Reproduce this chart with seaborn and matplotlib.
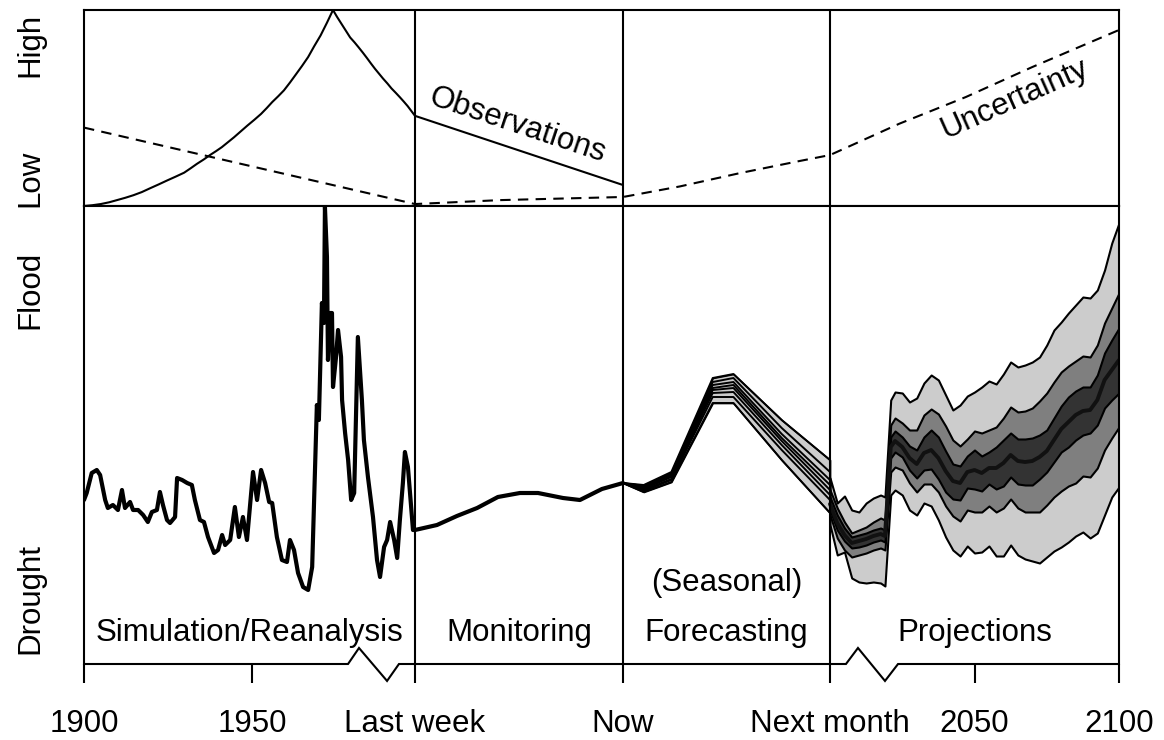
import numpy as np
import pandas as pd
import matplotlib
matplotlib.use("Agg")
import matplotlib.pyplot as plt
import matplotlib.transforms as mtransforms
import seaborn as sns

# ---------------------------------------------------------------- data
# Simulation / reanalysis (hydrological index, arbitrary units)
sim_years = [1900.0, 1900.8, 1902.3, 1903.8, 1904.8, 1906.3, 1907.1, 1908.6, 1910.1, 1911.3,
             1912.2, 1913.7, 1914.6, 1916.1, 1917.6, 1919.0, 1920.2, 1921.7, 1922.6, 1923.5,
             1924.7, 1925.6, 1927.1, 1927.7, 1929.2, 1930.7, 1932.1, 1933.0, 1934.5, 1935.7,
             1936.9, 1938.7, 1939.9, 1941.1, 1942.0, 1943.5, 1944.9, 1946.1, 1947.3, 1948.5,
             1950.3, 1951.5, 1952.7, 1953.9, 1955.1, 1956.0, 1957.4, 1958.9, 1960.4, 1961.3,
             1962.5, 1963.7, 1965.2, 1966.7, 1967.9, 1968.8, 1969.3, 1969.9, 1970.8, 1971.4,
             1971.7, 1972.3, 1972.6, 1973.2, 1973.8, 1974.1, 1975.0, 1975.6, 1976.5, 1976.8,
             1977.7, 1978.6, 1979.5, 1980.4, 1981.5, 1982.7, 1983.3, 1984.5, 1986.0, 1987.2,
             1988.1, 1989.3, 1990.2, 1991.1, 1992.3, 1993.2, 1994.0, 1994.9, 1995.5, 1996.4,
             1997.9]
sim_index = [1.62, 1.69, 1.89, 1.92, 1.87, 1.62, 1.54, 1.57, 1.52, 1.72,
             1.54, 1.60, 1.52, 1.52, 1.47, 1.40, 1.50, 1.52, 1.70, 1.57,
             1.42, 1.39, 1.45, 1.84, 1.82, 1.79, 1.77, 1.62, 1.42, 1.40,
             1.25, 1.09, 1.12, 1.27, 1.17, 1.22, 1.55, 1.25, 1.45, 1.22,
             1.90, 1.62, 1.92, 1.79, 1.60, 1.59, 1.25, 1.02, 1.00, 1.22,
             1.12, 0.89, 0.75, 0.72, 0.95, 1.99, 2.57, 2.42, 3.59, 3.39,
             4.55, 4.05, 3.02, 3.49, 3.49, 2.75, 3.05, 3.32, 3.05, 2.62,
             2.29, 2.02, 1.62, 1.69, 3.25, 2.62, 2.22, 1.85, 1.45, 1.02,
             0.85, 1.15, 1.22, 1.40, 1.22, 1.04, 1.42, 1.79, 2.10, 1.95,
             1.32]

# Monitoring (days relative to now)
mon_days = [-7.0, -6.26, -5.59, -4.91, -4.21, -3.47, -2.86, -2.02, -1.45, -0.71, 0.0]
mon_index = [1.32, 1.37, 1.46, 1.54, 1.65, 1.69, 1.69, 1.64, 1.62, 1.73, 1.79]

# Seasonal forecast ensemble (days ahead)
fc_days = [0, 3, 7, 13, 16, 23, 30]
fc_member_1 = [1.79, 1.77, 1.90, 2.84, 2.88, 2.42, 2.02]
fc_member_2 = [1.79, 1.76, 1.88, 2.80, 2.84, 2.34, 1.90]
fc_member_3 = [1.79, 1.75, 1.87, 2.77, 2.80, 2.28, 1.82]
fc_member_4 = [1.79, 1.74, 1.86, 2.74, 2.77, 2.24, 1.77]
fc_member_5 = [1.79, 1.73, 1.85, 2.72, 2.74, 2.21, 1.72]
fc_member_6 = [1.79, 1.72, 1.83, 2.69, 2.70, 2.17, 1.67]
fc_member_7 = [1.79, 1.71, 1.82, 2.65, 2.65, 2.12, 1.62]
fc_member_8 = [1.79, 1.70, 1.80, 2.59, 2.59, 2.02, 1.49]

# Projections (percentile bands)
proj_years = [2000, 2002.5, 2005, 2007.5, 2010, 2012.5, 2015, 2017.5, 2019, 2021,
              2022.5, 2025, 2027.5, 2030, 2032.5, 2035, 2037.5, 2040, 2042.5, 2045,
              2047.5, 2050, 2052.5, 2055, 2057.5, 2060, 2062.5, 2065, 2067.5, 2070,
              2072.5, 2075, 2077.5, 2080, 2082.5, 2085, 2087.5, 2090, 2092.5, 2095,
              2097.5, 2100]
proj_outer_hi = [1.84, 1.59, 1.66, 1.52, 1.50, 1.59, 1.64, 1.67, 1.65, 2.62,
                 2.70, 2.69, 2.60, 2.64, 2.79, 2.87, 2.82, 2.67, 2.52, 2.57,
                 2.66, 2.70, 2.75, 2.81, 2.78, 2.88, 3.00, 2.95, 2.97, 3.00,
                 3.05, 3.17, 3.32, 3.40, 3.49, 3.57, 3.65, 3.64, 3.72, 3.92,
                 4.19, 4.39]
proj_outer_lo = [1.37, 1.07, 1.10, 0.84, 0.80, 0.79, 0.80, 0.79, 0.76, 1.67,
                 1.72, 1.67, 1.52, 1.47, 1.59, 1.56, 1.42, 1.25, 1.12, 1.06,
                 1.16, 1.09, 1.10, 1.16, 1.06, 1.06, 1.17, 1.07, 1.03, 1.01,
                 0.99, 1.05, 1.11, 1.15, 1.20, 1.26, 1.30, 1.24, 1.29, 1.47,
                 1.65, 1.75]
proj_mid_hi = [1.72, 1.54, 1.40, 1.29, 1.32, 1.35, 1.40, 1.44, 1.42, 2.37,
               2.44, 2.39, 2.32, 2.32, 2.47, 2.53, 2.48, 2.36, 2.22, 2.16,
               2.23, 2.31, 2.29, 2.32, 2.35, 2.44, 2.55, 2.50, 2.51, 2.54,
               2.61, 2.69, 2.80, 2.90, 2.96, 3.01, 3.06, 3.05, 3.17, 3.39,
               3.54, 3.69]
proj_mid_lo = [1.47, 1.24, 1.12, 1.05, 1.07, 1.09, 1.12, 1.14, 1.12, 1.90,
               1.95, 1.92, 1.79, 1.70, 1.78, 1.78, 1.70, 1.56, 1.46, 1.41,
               1.52, 1.50, 1.50, 1.56, 1.50, 1.54, 1.63, 1.54, 1.50, 1.50,
               1.50, 1.57, 1.65, 1.71, 1.76, 1.79, 1.86, 1.85, 1.94, 2.12,
               2.24, 2.35]
proj_inner_hi = [1.65, 1.47, 1.34, 1.25, 1.27, 1.29, 1.32, 1.34, 1.32, 2.25,
                 2.31, 2.25, 2.16, 2.12, 2.25, 2.32, 2.25, 2.11, 1.98, 1.96,
                 2.06, 2.12, 2.06, 2.10, 2.15, 2.22, 2.29, 2.23, 2.23, 2.24,
                 2.27, 2.32, 2.44, 2.56, 2.65, 2.71, 2.75, 2.75, 2.87, 3.09,
                 3.22, 3.34]
proj_inner_lo = [1.52, 1.32, 1.21, 1.14, 1.15, 1.17, 1.20, 1.22, 1.20, 2.04,
                 2.10, 2.05, 1.92, 1.84, 1.92, 1.93, 1.83, 1.70, 1.63, 1.62,
                 1.74, 1.73, 1.71, 1.78, 1.73, 1.76, 1.85, 1.78, 1.77, 1.77,
                 1.83, 1.90, 2.00, 2.10, 2.15, 2.22, 2.27, 2.29, 2.37, 2.54,
                 2.62, 2.69]
proj_median = [1.58, 1.39, 1.27, 1.19, 1.21, 1.23, 1.26, 1.28, 1.26, 2.15,
               2.21, 2.15, 2.04, 1.98, 2.09, 2.12, 2.04, 1.91, 1.81, 1.79,
               1.90, 1.92, 1.89, 1.94, 1.94, 1.99, 2.07, 2.01, 2.00, 2.01,
               2.05, 2.11, 2.22, 2.33, 2.40, 2.47, 2.51, 2.52, 2.62, 2.82,
               2.92, 3.02]

# Top panel: availability of observations (0 = low, 1 = high)
obs_sim_years = [1900, 1902.5, 1905, 1907.5, 1909.8, 1912.3, 1914.7, 1917.2, 1919.6, 1922.2,
                 1924.7, 1927.3, 1929.8, 1931.7, 1933.6, 1935.6, 1937.5, 1939.3, 1941, 1942.8,
                 1944.6, 1946.6, 1948.6, 1950.7, 1952.7, 1954.4, 1956, 1957.8, 1959.5, 1961.3,
                 1963, 1964.9, 1966.7, 1968.5, 1970.4, 1972.3, 1974.1,
                 1975.3, 1976.6, 1977.9, 1979.2, 1980.5, 1981.7, 1983.0, 1984.2, 1985.4,
                 1986.6, 1987.8, 1989.0, 1990.3, 1991.5, 1992.8, 1994.0, 1995.2, 1996.3,
                 1997.4, 1998.5]
obs_sim_level = [0.0, 0.004, 0.01, 0.019, 0.03, 0.042, 0.055, 0.071, 0.09, 0.11,
                 0.13, 0.15, 0.17, 0.192, 0.215, 0.237, 0.26, 0.28, 0.30, 0.325,
                 0.35, 0.38, 0.41, 0.44, 0.47, 0.50, 0.53, 0.56, 0.59, 0.63,
                 0.67, 0.715, 0.76, 0.815, 0.87, 0.935, 1.0,
                 0.965, 0.93, 0.895, 0.86, 0.835, 0.81, 0.782, 0.755, 0.727,
                 0.70, 0.675, 0.65, 0.625, 0.60, 0.577, 0.555, 0.532, 0.51,
                 0.485, 0.46]
obs_mon_days = [-7.0, 0.0]
obs_mon_level = [0.46, 0.107]

# Top panel: uncertainty
unc_sim_years = [1900, 1998.5]
unc_sim_level = [0.40, 0.01]
unc_mon_days = [-7.0, -4.14, 0.0]
unc_mon_level = [0.01, 0.03, 0.046]
unc_fc_days = [0, 8.26, 16.96, 25.65, 30]
unc_fc_level = [0.046, 0.10, 0.168, 0.23, 0.26]
unc_proj_years = [2000, 2024, 2047, 2070, 2100]
unc_proj_level = [0.26, 0.42, 0.556, 0.709, 0.898]

# Labels
tick_labels = ["1900", "1950", "Last week", "Now", "Next month", "2050", "2100"]
phase_labels = ["Simulation/Reanalysis", "Monitoring", "Forecasting", "Projections"]
top_ylabels = ["Low", "High"]
bot_ylabels = ["Drought", "Flood"]

# ---------------------------------------------------------------- axis mapping
SEGMENTS = {
    "sim": (1900.0, 1998.5, 0.0, 31.98),
    "mon": (-7.0, 0.0, 31.98, 52.08),
    "fc": (0.0, 30.0, 52.08, 72.08),
    "proj": (2000.0, 2100.0, 72.08, 100.0),
}


def pos(seg, t):
    a, b, u0, u1 = SEGMENTS[seg]
    return u0 + (np.asarray(t, dtype=float) - a) / (b - a) * (u1 - u0)


# ---------------------------------------------------------------- style
sns.set_theme(style="white")
plt.rcParams["font.family"] = ["Liberation Sans", "DejaVu Sans"]
plt.rcParams["text.color"] = "black"
plt.rcParams["xtick.color"] = "black"
plt.rcParams["ytick.color"] = "black"
FS = 22.5
LW = 1.5

W, H = 1164, 740
fig = plt.figure(figsize=(W / 100, H / 100), dpi=100)
ax_top = fig.add_axes([84 / W, 1 - 206 / H, 1035 / W, 196 / H])
ax_bot = fig.add_axes([84 / W, 1 - 664 / H, 1035 / W, 458 / H])

# ---------------------------------------------------------------- top panel
obs_df = pd.DataFrame({
    "u": np.concatenate([pos("sim", obs_sim_years), pos("mon", obs_mon_days)]),
    "v": obs_sim_level + obs_mon_level,
})
sns.lineplot(data=obs_df, x="u", y="v", ax=ax_top, color="black", lw=LW,
             estimator=None, sort=False)

unc_df = pd.DataFrame({
    "u": np.concatenate([pos("sim", unc_sim_years), pos("mon", unc_mon_days),
                         pos("fc", unc_fc_days), pos("proj", unc_proj_years)]),
    "v": unc_sim_level + unc_mon_level + unc_fc_level + unc_proj_level,
})
sns.lineplot(data=unc_df, x="u", y="v", ax=ax_top, color="black", lw=LW,
             estimator=None, sort=False)
ax_top.lines[-1].set_linestyle((0, (5, 3.5)))

ax_top.text(41.84, 0.413, "Observations", rotation=-18.4, rotation_mode="anchor",
            ha="center", va="center", fontsize=FS)
ax_top.text(89.95, 0.545, "Uncertainty", rotation=24, rotation_mode="anchor",
            ha="center", va="center", fontsize=FS)

ax_top.set_xlim(0, 100)
ax_top.set_ylim(0, 1)
ax_top.set_xticks([])
ax_top.set_xlabel("")
ax_top.set_ylabel("")
ax_top.set_yticks([0.143, 0.82])
ax_top.set_yticklabels(top_ylabels, rotation=90, va="center")
ax_top.tick_params(axis="y", left=False, length=0, pad=28, labelsize=FS)

# ---------------------------------------------------------------- bottom panel
# projections
pu = pos("proj", proj_years)
ax_bot.fill_between(pu, proj_outer_lo, proj_outer_hi, facecolor="#cccccc",
                    edgecolor="black", lw=1.5, zorder=2)
ax_bot.fill_between(pu, proj_mid_lo, proj_mid_hi, facecolor="#7f7f7f",
                    edgecolor="black", lw=1.5, zorder=3)
ax_bot.fill_between(pu, proj_inner_lo, proj_inner_hi, facecolor="#333333",
                    edgecolor="black", lw=1.5, zorder=4)
med_df = pd.DataFrame({"u": pu, "v": proj_median})
sns.lineplot(data=med_df, x="u", y="v", ax=ax_bot, color="#111111", lw=2.8,
             estimator=None, sort=False, zorder=5)

# forecast ensemble
members = [fc_member_1, fc_member_2, fc_member_3, fc_member_4,
           fc_member_5, fc_member_6, fc_member_7, fc_member_8]
fu = pos("fc", fc_days)
marr = np.array(members)
ax_bot.fill_between(fu, marr.min(axis=0), marr.max(axis=0), facecolor="#cccccc",
                    edgecolor="black", lw=1.2, zorder=2)
fc_df = pd.DataFrame({
    "u": np.tile(fu, len(members)),
    "v": np.concatenate(members),
    "member": np.repeat(np.arange(len(members)), len(fc_days)),
})
sns.lineplot(data=fc_df, x="u", y="v", units="member", estimator=None, ax=ax_bot,
             color="black", lw=1.4, sort=False, zorder=3)

# simulation + monitoring line
hist_df = pd.DataFrame({
    "u": np.concatenate([pos("sim", sim_years), pos("mon", mon_days)]),
    "v": sim_index + mon_index,
})
sns.lineplot(data=hist_df, x="u", y="v", ax=ax_bot, color="black", lw=3.0,
             estimator=None, sort=False, zorder=6)
for ln in ax_bot.lines:
    ln.set_solid_joinstyle("round")
    ln.set_solid_capstyle("round")

ax_bot.set_xlim(0, 100)
ax_bot.set_ylim(-0.02, 4.56)
ax_bot.set_xlabel("")
ax_bot.set_ylabel("")
ax_bot.set_yticks([0.64, 3.72])
ax_bot.set_yticklabels(bot_ylabels, rotation=90, va="center")
ax_bot.tick_params(axis="y", left=False, length=0, pad=28, labelsize=FS)

tick_pos = [pos("sim", 1900), pos("sim", 1950), pos("sim", 1998.5), pos("mon", 0),
            pos("fc", 30), pos("proj", 2050), pos("proj", 2100)]
ax_bot.set_xticks(tick_pos)
ax_bot.set_xticklabels(tick_labels)
ax_bot.tick_params(axis="x", bottom=True, direction="out", length=13.7, width=LW,
                   color="black", pad=19.0, labelsize=FS)

# phase labels
centers = [pos("sim", 1949.25), pos("mon", -3.5), pos("fc", 15), pos("proj", 2050)]
for c, lab in zip(centers, phase_labels):
    ax_bot.text(c, 0.21, lab, ha="center", va="baseline", fontsize=FS, zorder=8)
ax_bot.text(centers[2], 0.71, "(Seasonal)", ha="center", va="baseline", fontsize=FS, zorder=8)

# broken x axis line
trans = mtransforms.blended_transform_factory(ax_bot.transData, ax_bot.transAxes)
brk_x = [0, 25.51, 26.57, 29.28, 30.43, 73.62, 74.78, 77.39, 78.65, 100]
brk_y = [0, 0, 0.035, -0.037, 0, 0, 0.035, -0.037, 0, 0]
ax_bot.plot(brk_x, brk_y, transform=trans, clip_on=False, color="black", lw=LW,
            solid_joinstyle="miter", zorder=9)

# spines and dividers
for ax in (ax_top, ax_bot):
    for s in ax.spines.values():
        s.set_color("black")
        s.set_linewidth(LW)
        s.set_zorder(10)
    for b in (SEGMENTS["sim"][3], SEGMENTS["mon"][3], SEGMENTS["fc"][3]):
        ax.axvline(b, color="black", lw=LW, zorder=9)
ax_bot.spines["bottom"].set_visible(False)

fig.savefig("out.png", dpi=100)
